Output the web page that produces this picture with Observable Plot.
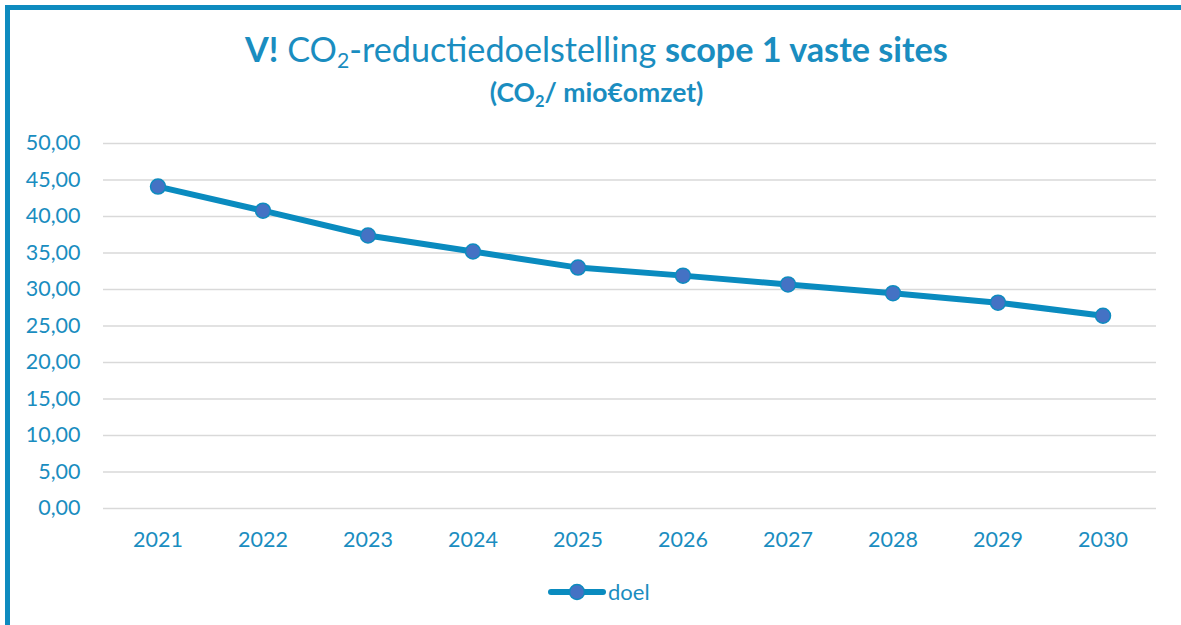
<!DOCTYPE html>
<html>
<head>
<meta charset="utf-8">
<script src="https://cdn.jsdelivr.net/npm/d3@7"></script>
<script src="https://cdn.jsdelivr.net/npm/@observablehq/plot@0.6"></script>
<style>
  html, body { margin: 0; padding: 0; background: #fff; }
  #wrap { position: relative; width: 1181px; height: 625px; overflow: hidden; font-family: Lato, "Open Sans", sans-serif; color: #1a8dc0; }
  #frame { position: absolute; left: 5px; top: 5px; width: 1300px; height: 800px; border-top: 5px solid #0e8bbf; border-left: 5px solid #0e8bbf; box-sizing: border-box; }
  #title { position: absolute; left: 0; width: 1193px; top: 28px; text-align: center; font-size: 34.2px; color: #1a8dc0; white-space: nowrap; }
  #subtitle { position: absolute; left: 0; width: 1193px; top: 76px; text-align: center; font-size: 26.5px; font-weight: bold; color: #1a8dc0; white-space: nowrap; }
  sub { font-size: 0.62em; vertical-align: -0.3em; line-height: 0; }
  #chart { position: absolute; left: 0; top: 0; }
  #legend { position: absolute; left: 548px; top: 578px; display: flex; align-items: center; font-size: 22px; color: #1a8dc0; }
</style>
</head>
<body>
<div id="wrap">
  <div id="frame"></div>
  <div id="chart"></div>
  <div id="title"><b>V!</b> CO<sub>2</sub>-reductiedoelstelling <b>scope 1 vaste sites</b></div>
  <div id="subtitle">(CO<sub>2</sub>/ mio€omzet)</div>
  <div id="legend">
    <svg width="58" height="20"><line x1="3" y1="10" x2="55" y2="10" stroke="#0a8bbf" stroke-width="6" stroke-linecap="round"/><circle cx="29" cy="10" r="7.5" fill="#4472c4" stroke="#0e8bbf" stroke-width="1.5"/></svg>
    <span style="margin-left:2px">doel</span>
  </div>
</div>
<script>
const years = ["2021","2022","2023","2024","2025","2026","2027","2028","2029","2030"];
const doel = [44.1, 40.8, 37.4, 35.2, 33.0, 31.9, 30.7, 29.5, 28.2, 26.4];
const yTicks = [0,5,10,15,20,25,30,35,40,45,50];
const seriesName = "doel";

const data = years.map((y, i) => ({year: y, value: doel[i], series: seriesName}));
const fmt = d => d.toFixed(2).replace(".", ",");

const chart = Plot.plot({
  width: 1181,
  height: 625,
  marginTop: 143,
  marginBottom: 117,
  marginLeft: 103,
  marginRight: 25,
  style: {fontFamily: "Lato, 'Open Sans', sans-serif", fontSize: "21.5px", color: "#1a8dc0", background: "transparent"},
  x: {type: "band", domain: years, padding: 0, label: null},
  y: {domain: [0, 50], ticks: yTicks, label: null},
  marks: [
    Plot.gridY(yTicks, {stroke: "#d9d9d9", strokeOpacity: 1, strokeWidth: 1.6}),
    Plot.axisY(yTicks, {tickSize: 0, tickPadding: 23, tickFormat: fmt, fill: "#1a8dc0", fontSize: 21.5}),
    Plot.axisX({tickSize: 0, tickPadding: 23, fill: "#1a8dc0", fontSize: 21.5, label: null}),
    Plot.line(data, {x: "year", y: "value", stroke: "#0a8bbf", strokeWidth: 6, strokeLinejoin: "round", strokeLinecap: "round"}),
    Plot.dot(data, {x: "year", y: "value", r: 7.5, fill: "#4472c4", stroke: "#0e8bbf", strokeWidth: 1.5})
  ]
});
document.getElementById("chart").appendChild(chart);
</script>
</body>
</html>
